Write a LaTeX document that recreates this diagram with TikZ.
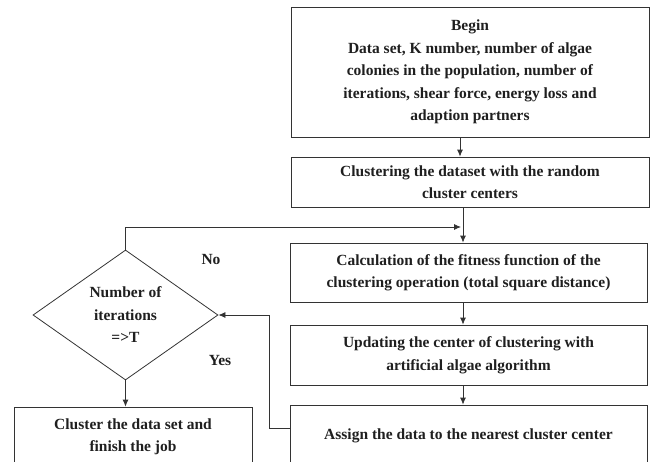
\documentclass[tikz,border=0pt]{standalone}
\usepackage{fontspec}
\setmainfont{Liberation Serif}
\usetikzlibrary{shapes.geometric,arrows.meta}
\begin{document}
\begin{tikzpicture}[x=1pt,y=-1pt,
  every node/.style={font=\bfseries\fontsize{15.5}{22.5}\selectfont,text=black!88},
  box/.style={draw=black!80,line width=0.8pt,rectangle,align=center,inner sep=0pt,minimum width=358pt},
  dia/.style={draw=black!80,line width=0.8pt,diamond,align=center,inner sep=0pt,minimum width=185pt,minimum height=130pt},
  arr/.style={draw=black!80,line width=0.8pt,-{Latex[length=7pt,width=6pt]}},
  lbl/.style={inner sep=0pt}]
\useasboundingbox (0,0) rectangle (651,461);
\node[box,minimum height=130pt] (b1) at (470,72) {Begin\\Data set, K number, number of algae\\colonies in the population, number of\\iterations, shear force, energy loss and\\adaption partners};
\node[box,minimum height=50pt] (b2) at (470,182) {Clustering the dataset with the random\\cluster centers};
\node[box,minimum height=59pt,minimum width=357pt] (b3) at (468.5,272.5) {Calculation of the fitness function of the\\clustering operation (total square distance)};
\node[box,minimum height=60pt,minimum width=357pt] (b4) at (468.5,355) {Updating the center of clustering with\\artificial algae algorithm};
\node[box,minimum height=62pt,minimum width=357pt] (b5) at (468.5,436) {Assign the data to the nearest cluster center};
\node[dia] (d) at (125.5,315) {Number of\\iterations\\=>T};
\node[box,minimum width=238pt,minimum height=60pt] (b6) at (133,437) {Cluster the data set and\\finish the job};
\node[lbl] (no) at (211,259) {No};
\node[lbl] (yes) at (220,360) {Yes};
\coordinate (m) at (461,227);
\draw[arr] ([xshift=-10pt]b1.south) -- ([xshift=-10pt]b2.north);
\draw[arr] ([xshift=-7pt]b2.south) -- ([xshift=-5.5pt]b3.north);
\draw[arr] ([xshift=-5.5pt]b3.south) -- ([xshift=-5.5pt]b4.north);
\draw[arr] ([xshift=-5.5pt]b4.south) -- ([xshift=-5.5pt]b5.north);
\draw[arr] (d.north) |- (m);
\draw[arr] ([yshift=8pt]b5.west) -- ++(-20,0) |- (d.east);
\draw[arr] (d.south) -- (b6.north -| d.south);
\end{tikzpicture}
\end{document}
